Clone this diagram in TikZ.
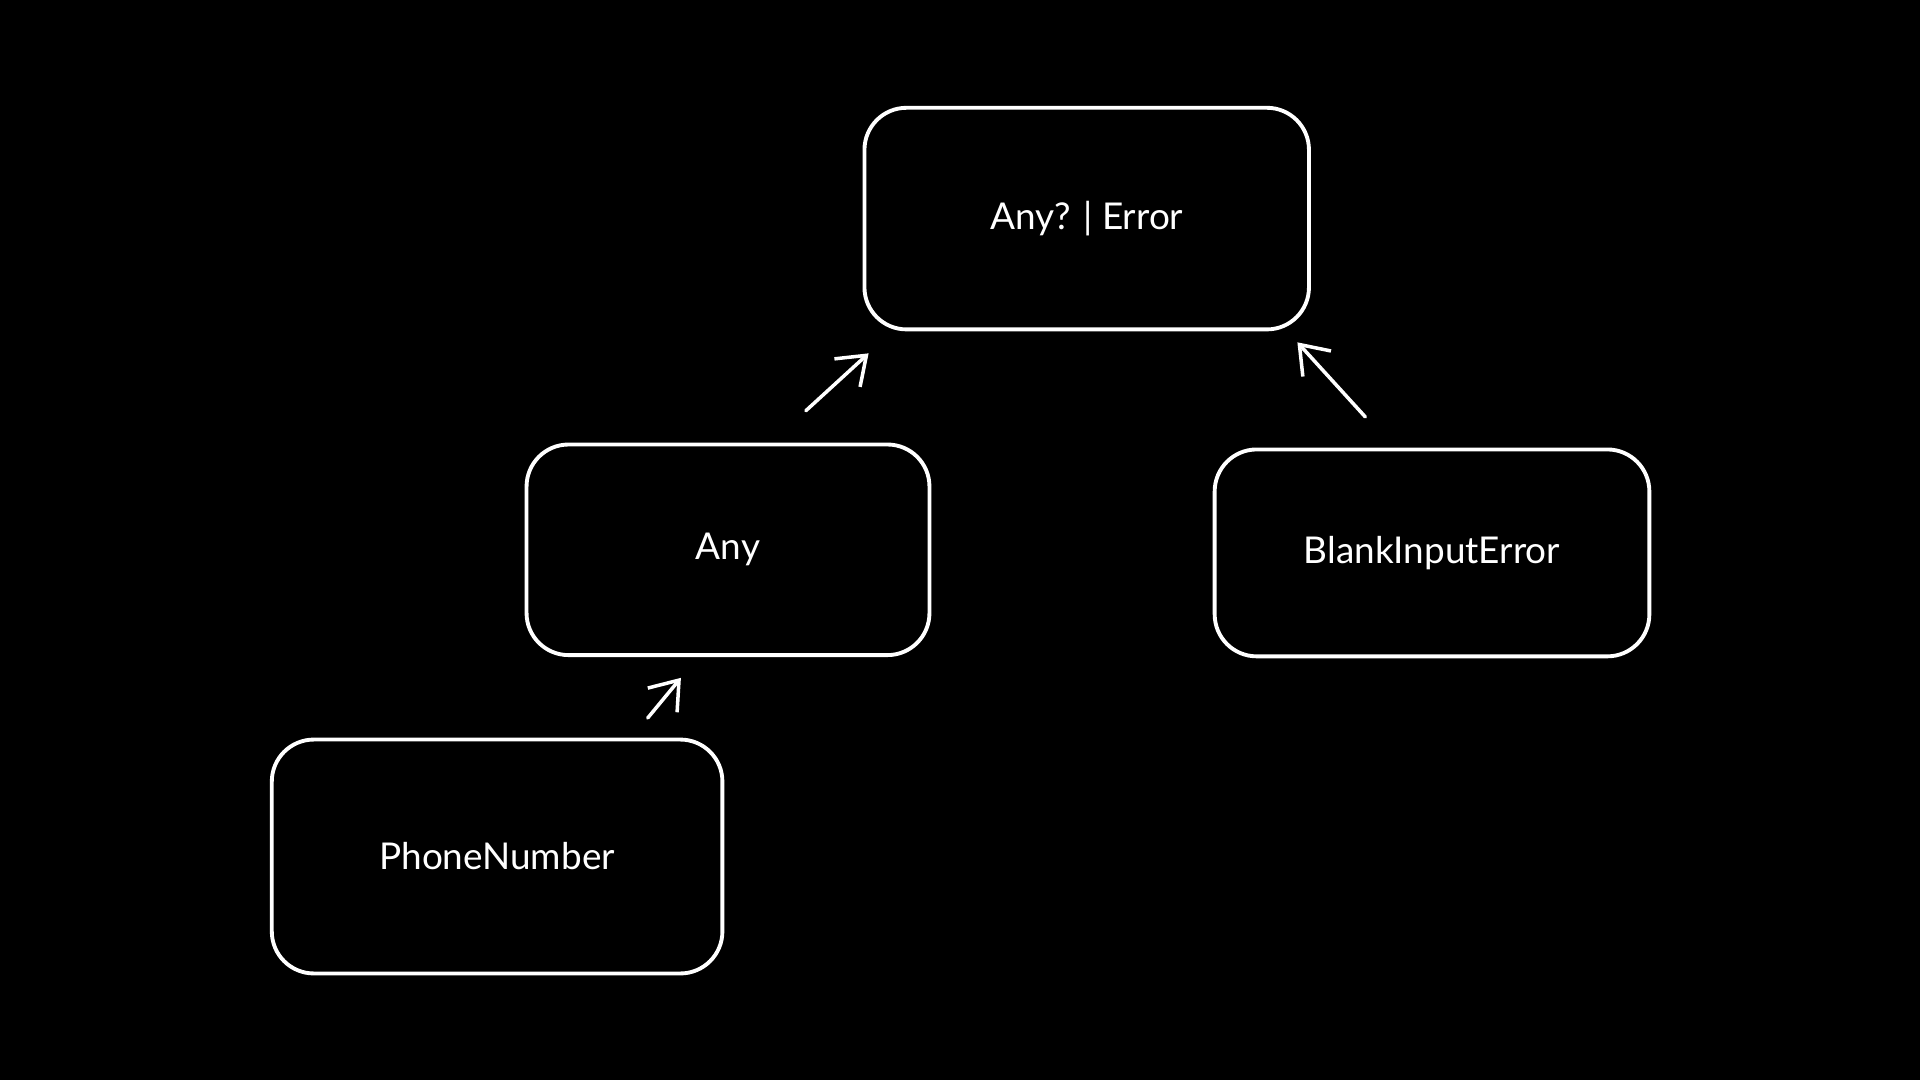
\documentclass[tikz,border=0pt]{standalone}
\usepackage{fontspec}
\setmainfont{Lato}
\usetikzlibrary{arrows.meta}

\begin{document}
\begin{tikzpicture}
        \tikzstyle{typebox}=[rectangle, draw=white, line width=1.1pt, rounded corners=0.42cm, text=white, font=\fontsize{10.5}{12.5}\selectfont, inner sep=0pt]
        \tikzstyle{subtype}=[-{Straight Barb[length=2.6mm,width=3.8mm]}, draw=white, line width=1pt, line cap=round]
        \fill[black] (0,0) rectangle (19.2,-10.8);
        \node[typebox, minimum width=4.445cm, minimum height=2.216cm] (top) at (10.867,-2.186) {Any? | Error};
        \node[typebox, minimum width=4.029cm, minimum height=2.106cm] (any) at (7.280,-5.498) {Any};
        \node[typebox, minimum width=4.347cm, minimum height=2.069cm] (blank) at (14.320,-5.529) {BlankInputError};
        \node[typebox, minimum width=4.506cm, minimum height=2.339cm] (phone) at (4.971,-8.565) {PhoneNumber};
        \draw[subtype] ([shift={(0.778,0.318)}]any.north) -- ([shift={(0.061,-0.220)}]top.south west);
        \draw[subtype] ([shift={(-0.667,0.306)}]blank.north) -- ([shift={(-0.135,-0.110)}]top.south east);
        \draw[subtype] ([shift={(1.506,0.196)}]phone.north) -- ([shift={(-0.471,-0.208)}]any.south);
\end{tikzpicture}
\end{document}
